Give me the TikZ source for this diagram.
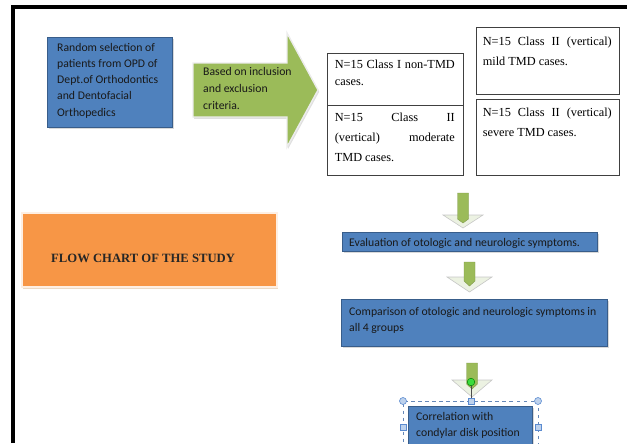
\documentclass[tikz,border=0pt]{standalone}
\usepackage{fontspec}
\setmainfont{Liberation Serif}
\newfontfamily\calfont{Carlito}
\usetikzlibrary{positioning, fit, calc, shadows, backgrounds}

\definecolor{boxblue}{RGB}{79,129,189}
\definecolor{boxblueedge}{RGB}{56,93,138}
\definecolor{arrgreen}{RGB}{155,187,89}
\definecolor{arrpale}{RGB}{236,242,226}
\definecolor{boxorange}{RGB}{247,150,70}
\definecolor{handleblue}{RGB}{91,139,208}
\definecolor{rotgreen}{RGB}{60,220,60}

\begin{document}
\begin{tikzpicture}[
  x=0.03cm, y=0.03cm,
  % Blue process boxes (soft shadow)
  bluebox/.style={rectangle, fill=boxblue, draw=boxblueedge, line width=0.6pt, inner sep=0pt,
    drop shadow={opacity=0.3, shadow xshift=1.5pt, shadow yshift=-1.5pt}},
  % Orange title box
  titlebox/.style={rectangle, fill=boxorange, draw=white!85!boxorange, line width=1pt, inner sep=0pt,
    drop shadow={opacity=0.3, fill=brown, shadow xshift=0.5pt, shadow yshift=-2pt}},
  % White group boxes
  grpbox/.style={rectangle, draw=black!75, line width=0.7pt, fill=white, inner sep=0pt},
  % Text styles
  caltxt/.style={font=\calfont\fontsize{10}{13.8}\selectfont, align=left, inner sep=0pt, anchor=north west, text=black!90},
  grptxt/.style={font=\fontsize{10.5}{17}\selectfont, align=justify, inner sep=0pt, anchor=north west},
  % Block arrows
  blockarr/.style={fill=arrgreen, draw=white!85!gray, line width=1.2pt, line join=miter,
    drop shadow={opacity=0.25, shadow xshift=1pt, shadow yshift=-1.5pt}},
  downhead/.style={fill=arrpale, draw=gray!45, line width=0.5pt, line join=miter},
  downbody/.style={fill=arrgreen, draw=arrgreen!80!black, line width=0.3pt},
  % Selection handles
  hdl/.style={fill=handleblue!40!white, draw=handleblue, line width=0.5pt}
]
\useasboundingbox (0,0) rectangle (627,-443);
\clip (0,0) rectangle (627,-443);

%% Page frame
\draw[line width=3.4pt] (13,-443) -- (13,-7) -- (627,-7);

%% Source box and criteria arrow
\node[bluebox, fit={(47,-37) (172,-127)}] (src) {};
\node[caltxt] (srctxt) at (57,-43)
  {Random selection of\\patients from OPD of\\Dept.of Orthodontics\\and Dentofacial\\Orthopedics};

\draw[blockarr] (193,-63) -- (287,-63) -- (287,-33) -- (318,-90) -- (287,-147)
  -- (287,-117) -- (193,-117) -- cycle;
\node[caltxt, font=\calfont\fontsize{10}{14.5}\selectfont] (crit) at (203,-67)
  {Based on inclusion\\and exclusion\\criteria.};

%% Group boxes
\node[grpbox, fit={(327,-53) (463,-105)}] (grpI) {};
\node[grpbox, fit={(327,-105) (463,-175)}] (grpMod) {};
\node[grpbox, fit={(476,-27) (619,-94)}] (grpMild) {};
\node[grpbox, fit={(476,-99) (619,-175)}] (grpSev) {};

\node[grptxt, text width=3.6cm, font=\fontsize{10.5}{14.5}\selectfont]
  (grpItxt) at ($(grpI.north west)+(8,-7.5)$) {N=15 Class I non-TMD cases.};
\node[grptxt, text width=3.6cm]
  (grpModtxt) at ($(grpMod.north west)+(8,-8.5)$) {N=15 Class II\linebreak (vertical) moderate\linebreak TMD cases.};
\node[grptxt, text width=3.87cm]
  (grpMildtxt) at ($(grpMild.north west)+(7,-10.5)$) {N=15 Class II (vertical)\linebreak mild TMD cases.};
\node[grptxt, text width=3.87cm]
  (grpSevtxt) at ($(grpSev.north west)+(7,-9.5)$) {N=15 Class II (vertical)\linebreak severe TMD cases.};

%% Title box
\node[titlebox, fit={(22,-213) (277,-287)}] (title) {};
\node[font=\bfseries\fontsize{10.8}{12}\selectfont, anchor=base west, inner sep=0pt, text=black!85]
  (titletxt) at (51,-262) {FLOW CHART OF THE STUDY};

%% Down arrow 1
\draw[downhead] (443,-215) -- (483,-215) -- (463,-228) -- cycle;
\draw[downbody] (457.5,-193) -- (468.5,-193) -- (468.5,-219) -- (463,-223) -- (457.5,-219) -- cycle;

%% Evaluation
\node[bluebox, fit={(342,-232) (597,-251)}] (eval) {};
\node[font=\calfont\fontsize{10}{12}\selectfont, anchor=base west, inner sep=0pt, text=black!90]
  (evaltxt) at (349,-246.5) {Evaluation of otologic and neurologic symptoms.};

%% Down arrow 2
\draw[downhead] (447,-277) -- (492,-277) -- (469.5,-292) -- cycle;
\draw[downbody] (464,-262) -- (475,-262) -- (475,-281) -- (469.5,-286) -- (464,-281) -- cycle;

%% Comparison
\node[bluebox, fit={(341,-299) (607,-346)}] (comp) {};
\node[caltxt, font=\calfont\fontsize{10}{13.6}\selectfont] (comptxt) at (349,-307)
  {Comparison of otologic and neurologic symptoms in\\all 4 groups};

%% Down arrow 3
\draw[downhead] (452,-380) -- (492,-380) -- (472,-397) -- cycle;
\draw[downbody] (466.5,-363) -- (477.5,-363) -- (477.5,-384) -- (472,-389) -- (466.5,-384) -- cycle;

%% Correlation (selected shape)
\node[bluebox, fit={(408,-406) (532,-470)}] (corr) {};
\node[caltxt, font=\calfont\fontsize{10}{13.6}\selectfont] (corrtxt) at (416,-412)
  {Correlation with\\condylar disk position};

% selection frame and handles
\node[draw=handleblue!70!gray, dashed, line width=0.5pt, inner sep=0pt,
  fit={(403,-401) (538,-480)}] (sel) {};
\draw[black!70, line width=0.6pt] (471,-382) -- (471,-401);
\node[circle, fill=rotgreen, draw=green!50!black, line width=0.4pt, minimum size=6.5pt, inner sep=0pt] (rot) at (471,-382) {};
\node[hdl, circle, minimum size=6pt, inner sep=0pt] (selnw) at (403,-401) {};
\node[hdl, circle, minimum size=6pt, inner sep=0pt] (selne) at (538,-401) {};
\node[hdl, rectangle, minimum size=5pt, inner sep=0pt] (seln) at (471,-401) {};
\node[hdl, rectangle, minimum size=5pt, inner sep=0pt] (selw) at (403,-427) {};
\node[hdl, rectangle, minimum size=5pt, inner sep=0pt] (sele) at (538,-427) {};

\end{tikzpicture}
\end{document}
